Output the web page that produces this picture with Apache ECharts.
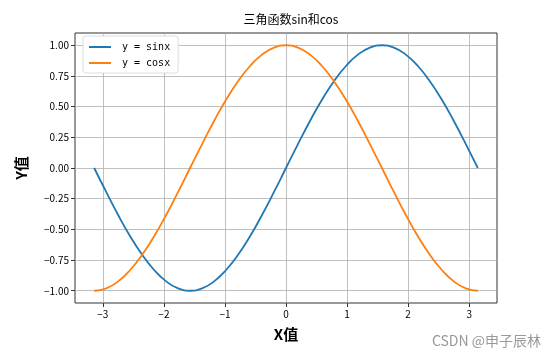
<!DOCTYPE html>
<html>
<head>
<meta charset="utf-8">
<script src="https://cdn.jsdelivr.net/npm/echarts@6/dist/echarts.min.js"></script>
<style>html,body{margin:0;padding:0;background:#fff}#c{width:555px;height:356px}</style>
</head>
<body>
<div id="c"></div>
<script>
const xValues = [-3.142,-2.945,-2.749,-2.553,-2.356,-2.160,-1.963,-1.767,-1.571,-1.374,-1.178,-0.982,-0.785,-0.589,-0.393,-0.196,0,0.196,0.393,0.589,0.785,0.982,1.178,1.374,1.571,1.767,1.963,2.160,2.356,2.553,2.749,2.945,3.142];
const sinValues = [0,-0.195,-0.383,-0.556,-0.707,-0.831,-0.924,-0.981,-1,-0.981,-0.924,-0.831,-0.707,-0.556,-0.383,-0.195,0,0.195,0.383,0.556,0.707,0.831,0.924,0.981,1,0.981,0.924,0.831,0.707,0.556,0.383,0.195,0];
const cosValues = [-1,-0.981,-0.924,-0.831,-0.707,-0.556,-0.383,-0.195,0,0.195,0.383,0.556,0.707,0.831,0.924,0.981,1,0.981,0.924,0.831,0.707,0.556,0.383,0.195,0,-0.195,-0.383,-0.556,-0.707,-0.831,-0.924,-0.981,-1];
const xTicks = [-3,-2,-1,0,1,2,3];
const yTicks = [-1,-0.75,-0.5,-0.25,0,0.25,0.5,0.75,1];
const seriesNames = ['y = sinx','y = cosx'];
const titleText = '三角函数sin和cos';

const font = '"Noto Sans CJK SC", sans-serif';
const chart = echarts.init(document.getElementById('c'));
chart.setOption({
  animation: false,
  backgroundColor: '#fff',
  title: {text: titleText, left: 286, textAlign: 'center', top: 8,
    textStyle: {fontFamily: font, fontSize: 12, fontWeight: 'normal', color: '#000'}},
  grid: {left: 75, right: 58, top: 33, bottom: 53, show: true, borderColor: '#333', borderWidth: 1},
  legend: {
    left: 83, top: 36, orient: 'vertical', itemGap: 6, itemWidth: 22, itemHeight: 2,
    padding: [6, 8, 5, 6], backgroundColor: '#fff', borderColor: '#ddd', borderWidth: 1, borderRadius: 3,
    textStyle: {fontFamily: '"DejaVu Sans Mono", monospace', fontSize: 10, color: '#000', padding: [0,0,0,6]},
    data: seriesNames.map(n => ({name: n, icon: 'rect'}))
  },
  xAxis: {
    type: 'value', min: -3.456, max: 3.456,
    name: 'X值', nameLocation: 'middle', nameGap: 24,
    nameTextStyle: {fontFamily: font, fontSize: 15, fontWeight: 'bold', color: '#000'},
    axisLine: {show: false, onZero: false},
    axisTick: {show: true, length: 4, customValues: xTicks, lineStyle: {color: '#333'}},
    axisLabel: {customValues: xTicks, fontFamily: font, fontSize: 10, color: '#000', margin: 6,
      formatter: v => String(v).replace('-', '\u2212')},
    splitLine: {show: true, lineStyle: {color: '#b0b0b0', width: 0.8}}
  },
  yAxis: {
    type: 'value', min: -1.1, max: 1.1,
    name: 'Y值', nameLocation: 'middle', nameGap: 46, nameRotate: 90,
    nameTextStyle: {fontFamily: font, fontSize: 15, fontWeight: 'bold', color: '#000'},
    axisLine: {show: false, onZero: false},
    axisTick: {show: true, length: 4, customValues: yTicks, lineStyle: {color: '#333'}},
    axisLabel: {customValues: yTicks, fontFamily: font, fontSize: 10, color: '#000', margin: 6,
      formatter: v => v.toFixed(2).replace('-', '\u2212')},
    splitLine: {show: true, lineStyle: {color: '#b0b0b0', width: 0.8}}
  },
  series: [
    {name: seriesNames[0], type: 'line', smooth: true, showSymbol: false,
      data: xValues.map((x, i) => [x, sinValues[i]]),
      lineStyle: {color: '#1f77b4', width: 1.8}, itemStyle: {color: '#1f77b4'}},
    {name: seriesNames[1], type: 'line', smooth: true, showSymbol: false,
      data: xValues.map((x, i) => [x, cosValues[i]]),
      lineStyle: {color: '#ff7f0e', width: 1.8}, itemStyle: {color: '#ff7f0e'}}
  ],
  graphic: [{type: 'text', right: 14, bottom: 8,
    style: {text: 'CSDN @申子辰林', fill: '#999', fontFamily: font, fontSize: 14}}]
});
</script>
</body>
</html>
